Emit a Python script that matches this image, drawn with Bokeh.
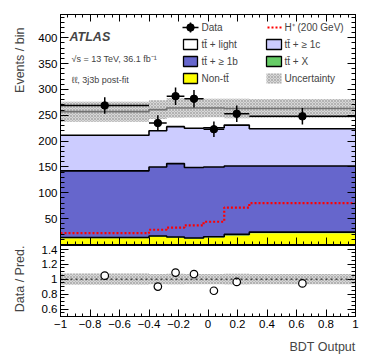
import math
from bokeh.plotting import figure
from bokeh.models import (Range1d, LinearAxis, FixedTicker, Label, Span,
                          CustomJSTickFormatter)
from bokeh.layouts import column, row
from bokeh.embed import file_html
from bokeh.resources import INLINE

# ---------------- data ----------------
bin_edges = [-1.0, -0.4, -0.28, -0.16, -0.03, 0.11, 0.28, 1.0]
non_tt = [12, 15, 13, 11, 13.5, 17.5, 22]
tt_x = [1.5, 1.5, 1.5, 1.5, 1.5, 2, 2]
tt_1b = [129, 133.5, 142, 136.5, 135, 132.5, 128]
tt_1c = [69, 70, 71.5, 76, 76, 79, 72]
tt_light = [45.5, 41, 36, 39, 38, 32, 39]
data = [269, 235, 287, 282, 223, 253, 248]
data_err = [16, 15, 17, 17, 15, 16, 16]
hplus = [22, 28.5, 32.5, 37, 44, 71.5, 80]
rel_unc = [0.075, 0.07, 0.072, 0.07, 0.068, 0.072, 0.07]

x_tick_values = [-1.0, -0.8, -0.6, -0.4, -0.2, 0.0, 0.2, 0.4, 0.6, 0.8, 1.0]
x_tick_labels = ["\u22121", "\u22120.8", "\u22120.6", "\u22120.4", "\u22120.2", "0",
                 "0.2", "0.4", "0.6", "0.8", "1"]
y_tick_values = [50, 100, 150, 200, 250, 300, 350, 400]
r_tick_values = [0.6, 0.8, 1.0, 1.2, 1.4]
r_tick_labels = ["0.6", "0.8", "1", "1.2", "1.4"]

# ---------------- layout constants (page pixels) ----------------
FONT = "Liberation Sans"
LABW = 30            # width of the strip holding the vertical axis titles
FRAME_L = 60         # frame left edge on the page
FRAME_R = 355        # frame right edge on the page
TOTAL_W = 366
LB = FRAME_L - LABW
RB = TOTAL_W - FRAME_R
FW = FRAME_R - FRAME_L
W = TOTAL_W - LABW
MAIN_TOP = 14
MAIN_FH = 230
MAIN_H = MAIN_TOP + MAIN_FH + 1
RAT_FH = 71
RAT_BOTTOM = 20
RAT_H = RAT_FH + RAT_BOTTOM
XLAB_H = 20
YMAX = 445.0
RMIN, RMAX = 0.5, 1.45

def X(px):
    return -1 + (px - FRAME_L) * 2.0 / FW
def Y(py):
    return (MAIN_TOP + MAIN_FH - py) * YMAX / MAIN_FH

lefts = bin_edges[:-1]
rights = bin_edges[1:]
centers = [(a + b) / 2 for a, b in zip(lefts, rights)]

x_range = Range1d(-1, 1)

def style_axis(ax, ticker, labels=True, overrides=None, tick_len=8):
    ax.ticker = ticker
    ax.major_tick_in = tick_len
    ax.major_tick_out = 0
    ax.minor_tick_in = tick_len // 2
    ax.minor_tick_out = 0
    ax.axis_line_color = "black"
    ax.major_tick_line_color = "black"
    ax.minor_tick_line_color = "black"
    if labels:
        ax.major_label_text_font = FONT
        ax.major_label_text_font_size = "11.5px"
        ax.major_label_text_color = "black"
        ax.major_label_standoff = 3
        if overrides:
            ax.major_label_overrides = overrides
    else:
        ax.formatter = CustomJSTickFormatter(code="return ''")
        ax.major_label_text_font_size = "1px"
        ax.major_label_standoff = 0

def text_strip(width, height):
    f = figure(width=width, height=height, x_range=Range1d(0, width),
               y_range=Range1d(height, 0), output_backend="svg",
               toolbar_location=None, x_axis_location=None, y_axis_location=None,
               min_border=0)
    f.grid.visible = False
    f.outline_line_color = None
    f.background_fill_color = "white"
    f.border_fill_color = "white"
    return f

# ---------------- main panel ----------------
p = figure(width=W, height=MAIN_H, x_range=x_range, y_range=Range1d(0, YMAX),
           output_backend="svg", toolbar_location=None,
           x_axis_location=None, y_axis_location=None,
           min_border_left=LB, min_border_right=RB,
           min_border_top=MAIN_TOP, min_border_bottom=1)
p.grid.visible = False
p.outline_line_color = "black"
p.outline_line_width = 1
p.background_fill_color = "white"
p.border_fill_color = "white"

x_minor = [round(-1 + 0.05 * i, 2) for i in range(41)]
y_minor = list(range(0, 450, 10))
r_minor = [round(0.5 + 0.05 * i, 2) for i in range(20)]

components = [
    (non_tt, "#ffff00"),
    (tt_x, "#66cc66"),
    (tt_1b, "#6666cc"),
    (tt_1c, "#ccccff"),
    (tt_light, "#ffffff"),
]
cum = [0.0] * len(lefts)
tops_list = []
for vals, col in components:
    bottom = cum[:]
    cum = [c + v for c, v in zip(cum, vals)]
    p.varea_step(x=bin_edges, y1=bottom + [bottom[-1]], y2=cum + [cum[-1]],
                 step_mode="after", fill_color=col)
    tops_list.append(cum[:])
total = cum[:]

for i, tops in enumerate(tops_list):
    if i == 0:
        continue  # yellow top coincides with tt+X top
    p.step(x=bin_edges, y=tops + [tops[-1]], mode="after",
           line_color="black", line_width=1.6)

# uncertainty band
band_lo = [t * (1 - u) for t, u in zip(total, rel_unc)]
band_hi = [t * (1 + u) for t, u in zip(total, rel_unc)]
HATCH = dict(fill_color="#bcbcbc", fill_alpha=0.6,
             hatch_pattern="x", hatch_color="#707070", hatch_alpha=0.6,
             hatch_scale=3, hatch_weight=0.6)
p.varea_step(x=bin_edges, y1=band_lo + [band_lo[-1]], y2=band_hi + [band_hi[-1]],
             step_mode="after", **HATCH)

# H+ signal
p.step(x=bin_edges, y=hplus + [hplus[-1]], mode="after",
       line_color="#ff0000", line_width=2.2, line_dash="2 2")

# data points
p.segment(x0=lefts, x1=rights, y0=data, y1=data, line_color="black", line_width=1.5)
p.segment(x0=centers, x1=centers, y0=[d - e for d, e in zip(data, data_err)],
          y1=[d + e for d, e in zip(data, data_err)], line_color="black", line_width=1.5)
p.scatter(x=centers, y=data, size=7.5, marker="circle", fill_color="black", line_color="black")

ax = LinearAxis(); style_axis(ax, FixedTicker(ticks=y_tick_values, minor_ticks=y_minor)); p.add_layout(ax, "left")
ax = LinearAxis(); style_axis(ax, FixedTicker(ticks=y_tick_values, minor_ticks=y_minor), labels=False); p.add_layout(ax, "right")
ax = LinearAxis(); style_axis(ax, FixedTicker(ticks=x_tick_values, minor_ticks=x_minor), labels=False, tick_len=7); p.add_layout(ax, "above")
ax = LinearAxis(); style_axis(ax, FixedTicker(ticks=x_tick_values, minor_ticks=x_minor), labels=False, tick_len=7); p.add_layout(ax, "below")

# ---- texts ----
p.add_layout(Label(x=X(69), y=Y(36), text="ATLAS", text_font=FONT,
                   text_font_size="12.5px", text_font_style="bold italic",
                   text_baseline="middle"))
p.add_layout(Label(x=X(71), y=Y(58), text="\u221as = 13 TeV, 36.1 fb\u207b\u00b9", text_font=FONT,
                   text_font_size="9px", text_baseline="middle"))
p.add_layout(Label(x=X(71), y=Y(79), text="\u2113\u2113, 3j3b post-fit", text_font=FONT,
                   text_font_size="9px", text_baseline="middle"))

# ---- legend (drawn by hand) ----
rows = [27, 44, 61, 78]
c1_box = (183, 197)
c2_box = (266, 281)
c1_txt, c2_txt = 201, 284
LEG_FS = "10px"

def leg_box(col_box, rw, **kw):
    p.quad(left=[X(col_box[0])], right=[X(col_box[1])],
           bottom=[Y(rw + 5)], top=[Y(rw - 5)], **kw)

def leg_text(px, rw, text):
    p.add_layout(Label(x=X(px), y=Y(rw), text=text, text_font=FONT,
                       text_font_size=LEG_FS, text_baseline="middle"))

p.segment(x0=[X(182)], x1=[X(198)], y0=[Y(rows[0])], y1=[Y(rows[0])], line_color="black", line_width=1.5)
p.segment(x0=[X(190)], x1=[X(190)], y0=[Y(rows[0] - 5)], y1=[Y(rows[0] + 5)], line_color="black", line_width=1.5)
p.scatter(x=[X(190)], y=[Y(rows[0])], size=7.5, marker="circle", fill_color="black", line_color="black")
leg_text(c1_txt, rows[0], "Data")
p.line(x=[X(267), X(281)], y=[Y(rows[0]), Y(rows[0])], line_color="#ff0000", line_width=2.2, line_dash="2 2")
leg_text(c2_txt, rows[0], "H\u207a (200 GeV)")
leg_box(c1_box, rows[1], fill_color="#ffffff", line_color="black", line_width=1.3)
leg_text(c1_txt, rows[1], "tt\u0304 + light")
leg_box(c2_box, rows[1], fill_color="#ccccff", line_color="black", line_width=1.3)
leg_text(c2_txt, rows[1], "tt\u0304 + \u2265 1c")
leg_box(c1_box, rows[2], fill_color="#6666cc", line_color="black", line_width=1.3)
leg_text(c1_txt, rows[2], "tt\u0304 + \u2265 1b")
leg_box(c2_box, rows[2], fill_color="#66cc66", line_color="black", line_width=1.3)
leg_text(c2_txt, rows[2], "tt\u0304 + X")
leg_box(c1_box, rows[3], fill_color="#ffff00", line_color="black", line_width=1.3)
leg_text(c1_txt, rows[3], "Non-tt\u0304")
leg_box(c2_box, rows[3], line_color=None, **HATCH)
leg_text(c2_txt, rows[3], "Uncertainty")

# ---------------- ratio panel ----------------
r = figure(width=W, height=RAT_H, x_range=x_range, y_range=Range1d(RMIN, RMAX),
           output_backend="svg", toolbar_location=None,
           x_axis_location=None, y_axis_location=None,
           min_border_left=LB, min_border_right=RB,
           min_border_top=0, min_border_bottom=RAT_BOTTOM)
r.grid.visible = False
r.outline_line_color = "black"
r.background_fill_color = "white"
r.border_fill_color = "white"

r_lo = [1 - u for u in rel_unc]
r_hi = [1 + u for u in rel_unc]
r.varea_step(x=bin_edges, y1=r_lo + [r_lo[-1]], y2=r_hi + [r_hi[-1]],
             step_mode="after", **HATCH)
r.add_layout(Span(location=1, dimension="width", line_color="black",
                  line_width=1, line_dash="2 3"))
ratio = [d / t for d, t in zip(data, total)]
r.scatter(x=centers, y=ratio, size=7.5, marker="circle", fill_color="white",
          line_color="black", line_width=1.2)

ax = LinearAxis(); style_axis(ax, FixedTicker(ticks=r_tick_values, minor_ticks=r_minor),
                              overrides=dict(zip(r_tick_values, r_tick_labels))); r.add_layout(ax, "left")
ax = LinearAxis(); style_axis(ax, FixedTicker(ticks=r_tick_values, minor_ticks=r_minor), labels=False); r.add_layout(ax, "right")
ax = LinearAxis(); style_axis(ax, FixedTicker(ticks=x_tick_values, minor_ticks=x_minor),
                              overrides=dict(zip(x_tick_values, x_tick_labels)), tick_len=7); r.add_layout(ax, "below")

# ---------------- axis titles (in their own strips) ----------------
lab_main = text_strip(LABW, MAIN_H)
lab_main.add_layout(Label(x=19, y=MAIN_TOP, text="Events / bin", text_font=FONT,
                          text_font_size="12.5px", angle=math.pi / 2,
                          text_align="right", text_baseline="middle"))
lab_rat = text_strip(LABW, RAT_H)
lab_rat.add_layout(Label(x=19, y=0, text="Data / Pred.", text_font=FONT,
                         text_font_size="12.5px", angle=math.pi / 2,
                         text_align="right", text_baseline="middle"))
lab_x = text_strip(TOTAL_W, XLAB_H)
lab_x.add_layout(Label(x=FRAME_R, y=XLAB_H / 2, text="BDT Output", text_font=FONT,
                       text_font_size="12.5px", text_align="right",
                       text_baseline="middle"))

layout = column(row(lab_main, p), row(lab_rat, r), lab_x)
open("out.html", "w").write(file_html(layout, INLINE))
